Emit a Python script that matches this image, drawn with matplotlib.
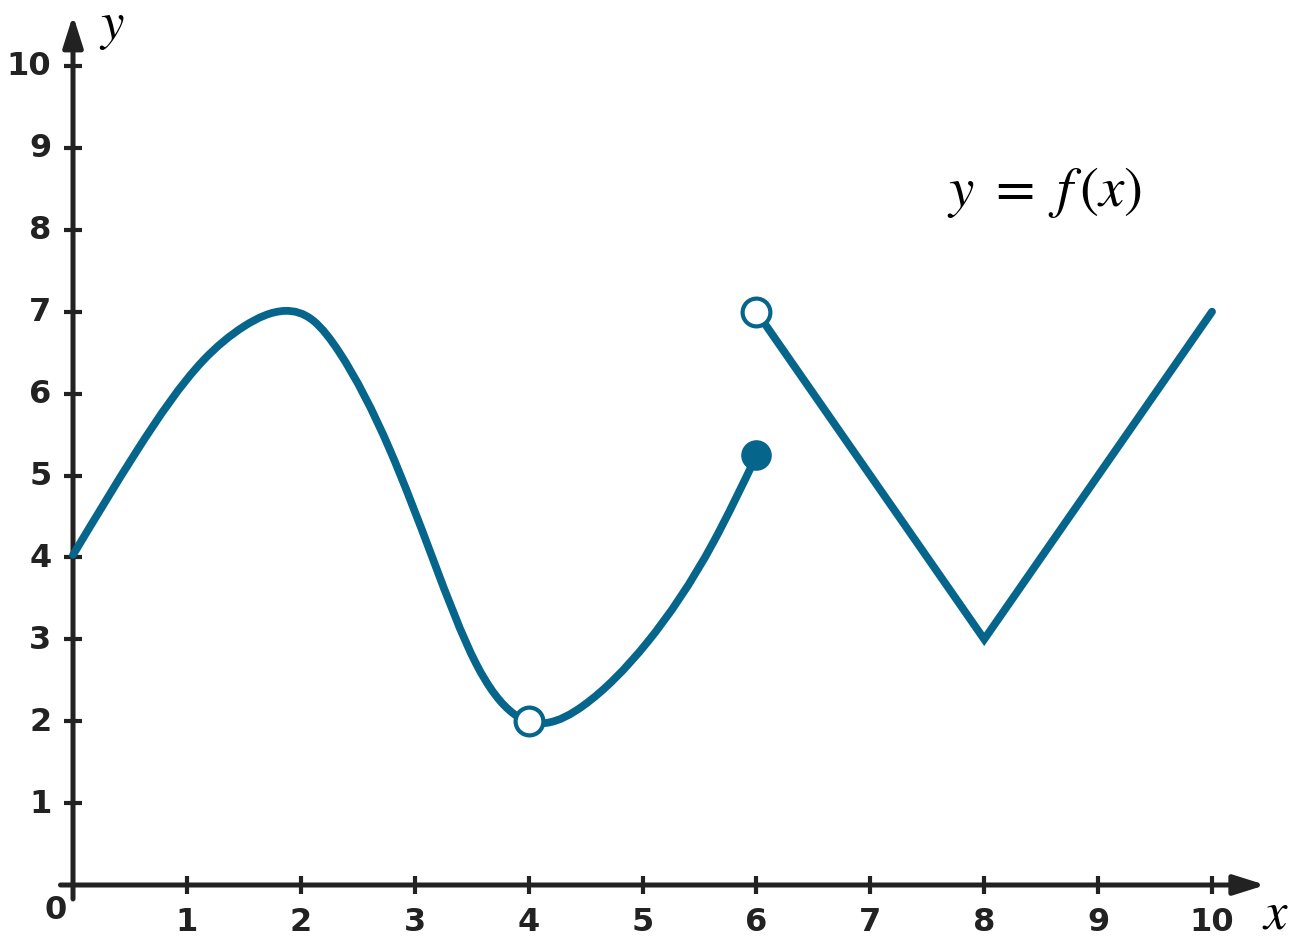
import matplotlib
matplotlib.use("Agg")
import matplotlib.pyplot as plt
from matplotlib.path import Path
from matplotlib.patches import PathPatch
import numpy as np

# ---- data ----
curve_x = [0.0, 0.56, 1.14, 1.5, 1.86, 2.11, 2.34, 2.78, 3.16, 3.54, 3.87, 4.16, 4.48,
           5.04, 5.62, 6.0]
curve_y = [4.03, 5.30, 6.40, 6.82, 7.01, 6.89, 6.50, 5.32, 3.98, 2.70, 2.09, 1.98, 2.19,
           2.96, 4.18, 5.24]
line_x = [6, 8, 10]
line_y = [7, 3, 7]
open_pts_x = [4, 6]
open_pts_y = [2, 7]
closed_pts_x = [6]
closed_pts_y = [5.25]
x_ticks = [1, 2, 3, 4, 5, 6, 7, 8, 9, 10]
y_ticks = [1, 2, 3, 4, 5, 6, 7, 8, 9, 10]

BLUE = "#05658b"
DARK = "#222222"

plt.rcParams["mathtext.fontset"] = "stix"
fig = plt.figure(figsize=(12.93, 9.53), dpi=100)
ax = fig.add_axes([0, 0, 1, 1])
ax.set_xlim(-0.641, 10.711)
ax.set_ylim(-0.818, 10.818)
ax.axis("off")


def spline_path(xs, ys):
    """Natural cubic spline through the read points, drawn as cubic Bezier segments."""
    x = np.asarray(xs, float)
    y = np.asarray(ys, float)
    n = len(x)
    h = np.diff(x)
    A = np.zeros((n, n))
    b = np.zeros(n)
    A[0, 0] = A[-1, -1] = 1.0
    for i in range(1, n - 1):
        A[i, i - 1] = h[i - 1]
        A[i, i] = 2 * (h[i - 1] + h[i])
        A[i, i + 1] = h[i]
        b[i] = 6 * ((y[i + 1] - y[i]) / h[i] - (y[i] - y[i - 1]) / h[i - 1])
    M = np.linalg.solve(A, b)
    m = np.empty(n)
    for i in range(n - 1):
        m[i] = (y[i + 1] - y[i]) / h[i] - h[i] * (2 * M[i] + M[i + 1]) / 6
    m[-1] = (y[-1] - y[-2]) / h[-1] + h[-1] * (M[-2] + 2 * M[-1]) / 6
    verts = [(x[0], y[0])]
    codes = [Path.MOVETO]
    for i in range(n - 1):
        d = h[i] / 3
        verts += [(x[i] + d, y[i] + d * m[i]), (x[i + 1] - d, y[i + 1] - d * m[i + 1]),
                  (x[i + 1], y[i + 1])]
        codes += [Path.CURVE4] * 3
    return Path(verts, codes)


# axes with arrows
arrow_kw = dict(arrowstyle="-|>,head_length=1.9,head_width=0.6",
                lw=3.6, color=DARK, shrinkA=0, shrinkB=0)
ax.annotate("", xy=(10.47, 0), xytext=(-0.11, 0), arrowprops=arrow_kw, zorder=2)
ax.annotate("", xy=(0, 10.62), xytext=(0, -0.17), arrowprops=arrow_kw, zorder=2)

# ticks
dx_tick = 9 / 113.9
dy_tick = 9 / 81.9
for t in x_ticks:
    ax.plot([t, t], [-dy_tick, dy_tick], color=DARK, lw=3.0, solid_capstyle="butt", zorder=2)
    ax.text(t, -0.45, str(t), ha="center", va="center", fontsize=23,
            fontweight="bold", color=DARK, family="DejaVu Sans")
for t in y_ticks:
    ax.plot([-dx_tick, dx_tick], [t, t], color=DARK, lw=3.0, solid_capstyle="butt", zorder=2)
    ax.text(-0.19, t, str(t), ha="right", va="center", fontsize=23,
            fontweight="bold", color=DARK, family="DejaVu Sans")
ax.text(-0.15, -0.3, "0", ha="center", va="center", fontsize=23,
        fontweight="bold", color=DARK, family="DejaVu Sans")

ax.text(10.56, -0.33, r"$x$", ha="center", va="center", fontsize=38, color="black")
ax.text(0.34, 10.5, r"$y$", ha="center", va="center", fontsize=38, color="black")
ax.text(8.53, 8.47, r"$y\ =\ f\,(x)$", ha="center", va="center", fontsize=41, color="black")

# function
ax.add_patch(PathPatch(spline_path(curve_x, curve_y), facecolor="none", edgecolor=BLUE,
                       lw=5.6, capstyle="round", joinstyle="round", zorder=3))
ax.plot(line_x, line_y, color=BLUE, lw=5.6, solid_capstyle="round",
        solid_joinstyle="miter", zorder=3)
ax.plot(open_pts_x, open_pts_y, "o", ms=20, mfc="white", mec=BLUE, mew=3, zorder=4)
ax.plot(closed_pts_x, closed_pts_y, "o", ms=21, mfc=BLUE, mec=BLUE, mew=1, zorder=4)

fig.savefig("out.png", dpi=100)
